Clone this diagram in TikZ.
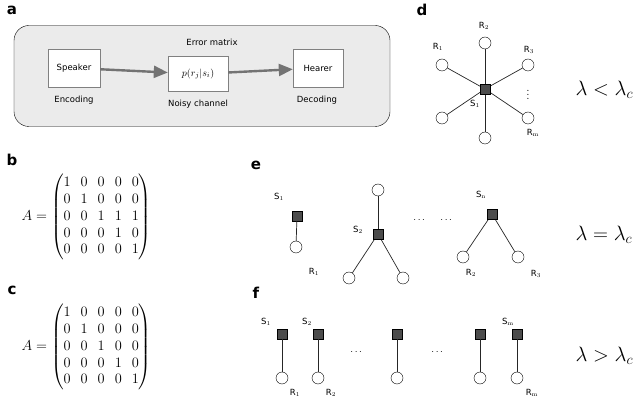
\documentclass[tikz,border=0pt]{standalone}
\usepackage{amsmath}
\usepackage{fontspec}
\newfontfamily\dvs{DejaVu Sans}
\usetikzlibrary{arrows.meta}
\begin{document}
\begin{tikzpicture}[x=1pt,y=-1pt,
 lab/.style={font=\dvs\bfseries\fontsize{15}{15}\selectfont},
 sm/.style={font=\dvs\fontsize{8.5}{9}\selectfont},
 smm/.style={font=\dvs\fontsize{8.5}{9}\selectfont},
 box/.style={draw=black!50,fill=white,minimum width=52,minimum height=38,font=\dvs\fontsize{8.5}{9}\selectfont},
 sq/.style={draw=black,fill=black!70,minimum size=10,inner sep=0},
 ci/.style={circle,draw=black,fill=white,minimum size=12,inner sep=0},
 ed/.style={draw=black!85,line width=0.7},
 arr/.style={-{Triangle[length=14,width=12]},draw=black!55,line width=2.4},
 lam/.style={font=\fontsize{20}{20}\selectfont,anchor=west},
 mat/.style={font=\fontsize{14}{15}\selectfont}]
\useasboundingbox (0,0) rectangle (640,411);
% a
\node[lab] (la) at (12,10) {a};
\node[draw=black,fill=black!8,rounded corners=15,minimum width=376,minimum height=101,inner sep=0] (frame) at (202,76) {};
\node[box] (spk) at (74,68) {Speaker};
\node[box,minimum width=60,minimum height=35,font=\fontsize{10}{10}\selectfont] (ch) at (198,74) {$p(r_j|s_i)$};
\node[box,minimum width=50] (hr) at (318,68) {Hearer};
\draw[arr] (spk) -- (ch);
\draw[arr] (ch) -- (hr);
\node[smm] (em) at (212,42) {Error matrix};
\node[smm] (enc) at (74,100) {Encoding};
\node[smm] (nc) at (198,104) {Noisy channel};
\node[smm] (dec) at (317,100) {Decoding};
% b, c
\renewcommand{\arraystretch}{1.12}
\node[lab] (lb) at (12,160) {b};
\node[mat,anchor=west] (mb) at (18,217) {$A=\begin{pmatrix}1&0&0&0&0\\0&1&0&0&0\\0&0&1&1&1\\0&0&0&1&0\\0&0&0&0&1\end{pmatrix}$};
\node[lab] (lc) at (12,290) {c};
\node[mat,anchor=west] (mc) at (18,347) {$A=\begin{pmatrix}1&0&0&0&0\\0&1&0&0&0\\0&0&1&0&0\\0&0&0&1&0\\0&0&0&0&1\end{pmatrix}$};
% d
\node[lab] (ld) at (422,10) {d};
\node[ci] (d2) at (485,43) {};
\node[ci] (d1) at (442,65) {};
\node[ci] (d3) at (528,65) {};
\node[ci] (d4) at (442,118) {};
\node[ci] (d5) at (528,118) {};
\node[ci] (d6) at (485,138) {};
\foreach \n in {d1,d2,d3,d4,d5,d6} \draw[ed] (485,89) -- (\n);
\node[sq] (ds) at (485,89) {};
\node[sm] (dR2) at (484,26) {R$_2$};
\node[sm] (dR1) at (438,47) {R$_1$};
\node[sm] (dR3) at (529,50) {R$_3$};
\node[sm] (dRm) at (533,133) {R$_\mathrm{m}$};
\node[sm] (dS) at (475,104) {S$_1$};
\node[font=\fontsize{12}{12}\selectfont,inner sep=0] (dv) at (528,92) {$\vdots$};
\node[lam] (l1) at (572,90) {$\lambda<\lambda_c$};
% e
\node[lab] (le) at (256,165) {e};
\node[sq] (e1) at (297,216) {};
\node[ci] (e1r) at (296,247) {};
\draw[ed] (e1) -- (e1r);
\node[sm] (eS1) at (279,197) {S$_1$};
\node[sm] (eR1) at (314,272) {R$_1$};
\node[ci] (e2t) at (378,190) {};
\node[ci] (e2a) at (349,278) {};
\node[ci] (e2b) at (403,278) {};
\draw[ed] (378,234) -- (e2t);
\draw[ed] (378,234) -- (e2a);
\draw[ed] (378,234) -- (e2b);
\node[sq] (e2) at (378,234) {};
\node[sm] (eS2) at (358,230) {S$_2$};
\node (ed1) at (420,220) {$\cdots$};
\node (ed2) at (447,220) {$\cdots$};
\node[ci] (e3a) at (463,257) {};
\node[ci] (e3b) at (518,257) {};
\draw[ed] (492,214) -- (e3a);
\draw[ed] (492,214) -- (e3b);
\node[sq] (e3) at (492,214) {};
\node[sm] (eSn) at (481,195) {S$_\mathrm{n}$};
\node[sm] (eR2) at (471,273) {R$_2$};
\node[sm] (eR3) at (536,274) {R$_3$};
\node[lam] (l2) at (572,235) {$\lambda=\lambda_c$};
% f
\node[lab] (lf) at (256,293) {f};
\foreach \x/\i in {282/1,318/2,397/3,480/4,517/5}{
 \node[ci] (fr\i) at (\x,378) {};
 \node[sq] (fs\i) at (\x,334) {};
 \draw[ed] (fs\i) -- (fr\i);
}
\node[sm] (fS1) at (266,322) {S$_1$};
\node[sm] (fS2) at (307,322) {S$_2$};
\node[sm] (fSm) at (508,322) {S$_\mathrm{m}$};
\node[sm] (fR1) at (295,393) {R$_1$};
\node[sm] (fR2) at (331,393) {R$_2$};
\node[sm] (fRm) at (532,393) {R$_\mathrm{m}$};
\node (fd1) at (357,352) {$\cdots$};
\node (fd2) at (438,352) {$\cdots$};
\node[lam] (l3) at (572,356) {$\lambda>\lambda_c$};
\end{tikzpicture}
\end{document}
